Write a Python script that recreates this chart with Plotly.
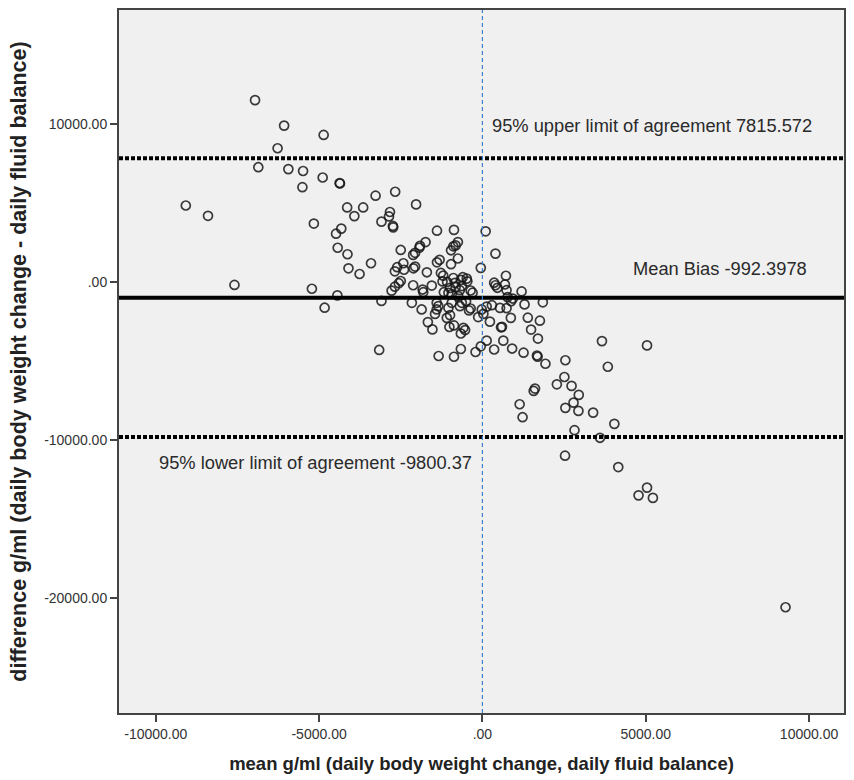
import plotly.graph_objects as go

# Bland-Altman data
mean_vals = [
    -6960, -6070, -4860, -6270, -6860, -5940, -5490, -4890, -5510, -4370,
    -4360, -3270, -2670, -2030, -9080, -8400, -4140, -3650, -3920, -2830,
    -2860, -3090, -2740, -2730, -5160, -4480, -4320, -4430, -4130, -4100,
    -3760, -3410, -1390, -870, 100, -750, -820, -890, -960, -750,
    -960, 400, -50, -2500, -1740, -1910, -1930, -2060, -2120, -1390,
    -1310, -2420, -2610, -2400, -2680, -2110, -2060, -1700, -1270, -1200,
    -1220, -7590, -5220, -4440, -4830, -3090, -2500, -2560, -2680, -2780,
    -2120, -1830, -1810, -1550, -890, -840, -660, -600, -480, -460,
    -630, -690, -1040, -990, -940, -1180, -360, -300, 400, 360,
    740, 690, 720, 460, 770, 880, 930, 1200, 1290, 1850,
    -630, -500, -360, -410, -690, -940, -1040, -990, -1090, -1350,
    -1400, -1450, -1860, -1670, -1530, -2160, -3160, -20, 130, 30,
    -130, 230, 570, 600, 870, 740, 540, 1390, 1760, 1490,
    1700, -580, -530, -660, -1010, -870, -1340, -870, -660, -210,
    -50, 130, 360, 640, 910, 1260, 1670, 1690, 1930, 2540,
    3660, 5040, 3840, 2510, 2280, 2730, 2950, 2790, 2540, 2940,
    3390, 1610, 1570, 1140, 1230, 4040, 2820, 3600, 2530, 4160,
    5040, 4780, 5220, 9280, 290, -740, -1080, -820, -1400,
]
diff_vals = [
    11490, 9880, 9290, 8450, 7250, 7130, 7010, 6600, 5990, 6250,
    6220, 5450, 5700, 4900, 4830, 4180, 4710, 4710, 4160, 4420,
    4140, 3810, 3540, 3450, 3690, 3050, 3370, 2160, 1750, 860,
    500, 1180, 3240, 3290, 3200, 2520, 2310, 2250, 2000, 1480,
    1120, 1790, 890, 2020, 2520, 2280, 2160, 1840, 1710, 1240,
    1400, 1180, 930, 770, 670, 860, 970, 610, 570, 400,
    30, -190, -430, -850, -1630, -1200, 60, -80, -300, -550,
    -210, -480, -650, -230, 250, -60, 130, 300, 210, 40,
    -270, -520, -690, -380, -780, -650, -540, -680, -210, -50,
    -520, -160, 390, -370, -960, -1220, -1050, -600, -1420, -1290,
    -1320, -1220, -1680, -1800, -1530, -1320, -1640, -2100, -2270, -1530,
    -1740, -2020, -1740, -2540, -3000, -1320, -4300, -1740, -1560, -2020,
    -2220, -2510, -2870, -2840, -2270, -1660, -1640, -2260, -2450, -3010,
    -3580, -2900, -3040, -3260, -2850, -2750, -4680, -4730, -4240, -4430,
    -4070, -3710, -4270, -3710, -4210, -4470, -4650, -4720, -5170, -4950,
    -3740, -4010, -5360, -6010, -6470, -6570, -7140, -7630, -7960, -8150,
    -8260, -6740, -6890, -7730, -8550, -8970, -9370, -9850, -10980, -11700,
    -13000, -13490, -13650, -20560, -1470, -900, 0, -330, -1320,
]

mean_bias = -992.3978
upper_loa = 7815.572
lower_loa = -9800.37

x_tickvals = [-10000, -5000, 0, 5000, 10000]
x_ticktext = ["-10000.00", "-5000.00", ".00", "5000.00", "10000.00"]
y_tickvals = [10000, 0, -10000, -20000]
y_ticktext = ["10000.00", ".00", "-10000.00", "-20000.00"]

upper_label = "95% upper limit of agreement 7815.572"
mean_label = "Mean Bias -992.3978"
lower_label = "95% lower limit of agreement -9800.37"

x_title = "mean g/ml (daily body weight change, daily fluid balance)"
y_title = "difference g/ml (daily body weight change - daily fluid balance)"

FONT = "Liberation Sans, Arial, sans-serif"

fig = go.Figure()
fig.add_trace(go.Scatter(
    x=mean_vals, y=diff_vals, mode="markers",
    marker=dict(symbol="circle-open", size=9,
                color="rgba(25,25,25,0.85)",
                line=dict(width=1.7, color="rgba(25,25,25,0.85)")),
    showlegend=False, hoverinfo="x+y",
))

# reference lines
fig.add_shape(type="line", xref="paper", x0=0, x1=1, yref="y",
              y0=mean_bias, y1=mean_bias,
              line=dict(color="black", width=4))
for v in (upper_loa, lower_loa):
    fig.add_shape(type="line", xref="paper", x0=0, x1=1, yref="y",
                  y0=v, y1=v,
                  line=dict(color="black", width=4, dash="4px,2px"))
fig.add_shape(type="line", xref="x", x0=0, x1=0, yref="paper", y0=0, y1=1,
              line=dict(color="#3d7fcf", width=1.2, dash="4px,3px"))

ann_font = dict(family=FONT, size=18.3, color="#2a2a2a")
fig.add_annotation(x=230, y=9875, text=upper_label, showarrow=False,
                   xanchor="left", yanchor="middle", font=ann_font)
fig.add_annotation(x=4540, y=863, text=mean_label, showarrow=False,
                   xanchor="left", yanchor="middle", font=ann_font)
fig.add_annotation(x=-9960, y=-11425, text=lower_label, showarrow=False,
                   xanchor="left", yanchor="middle", font=ann_font)

axis_common = dict(
    showline=True, linecolor="#444444", linewidth=2, mirror=True,
    showgrid=False, zeroline=False,
    ticks="outside", ticklen=7, tickwidth=1.5, tickcolor="#444444",
    tickfont=dict(family=FONT, size=14, color="#333333"),
)

fig.update_xaxes(
    range=[-11125, 11070], tickmode="array",
    tickvals=x_tickvals, ticktext=x_ticktext,
    title=dict(text="<b>" + x_title + "</b>", standoff=16,
               font=dict(family=FONT, size=18.5, color="#222222")),
    **axis_common,
)
fig.update_yaxes(
    range=[-27245, 17187], tickmode="array",
    tickvals=y_tickvals, ticktext=y_ticktext,
    title=dict(text="<b>" + y_title + "</b>", standoff=12,
               font=dict(family=FONT, size=21.5, color="#222222")),
    **axis_common,
)

fig.update_layout(
    width=854, height=780,
    margin=dict(l=119, r=10, t=8, b=67),
    plot_bgcolor="#f0f0f0", paper_bgcolor="white",
    showlegend=False,
)

fig.write_html("out.html")
